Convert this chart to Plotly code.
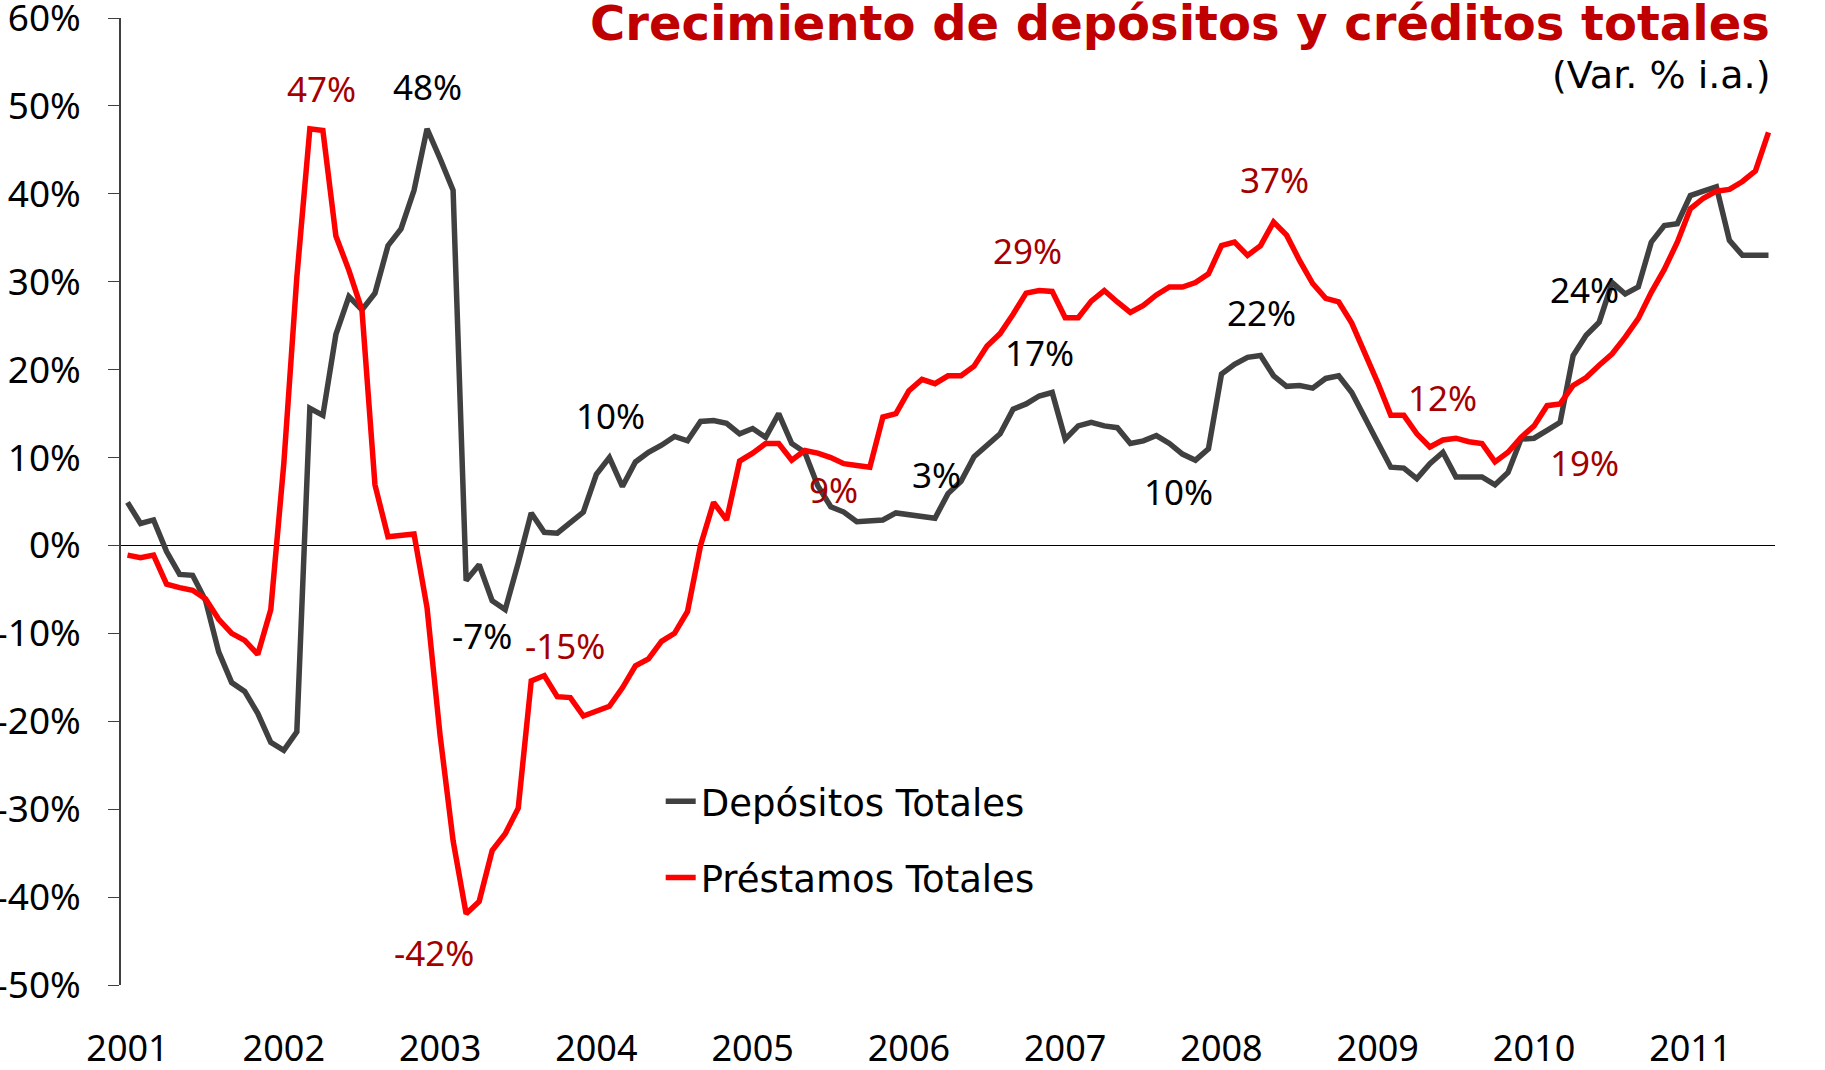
import plotly.graph_objects as go

# meses ene-2001 .. jul-2011
meses = [f"{a}-{m:02d}" for a in range(2001, 2012) for m in range(1, 13)][:127]
anios = [str(a) for a in range(2001, 2012)]
ticks_y = list(range(-50, 61, 10))
ticks_y_txt = [f"{v}%" for v in ticks_y]

depositos = [
    4.9, 2.5, 2.9, -0.7, -3.3, -3.4, -6.3, -12.1, -15.6, -16.6, -19.1, -22.4,
    -23.3, -21.2, 15.6, 14.8, 24.0, 28.3, 26.8, 28.7, 34.1, 36.0, 40.4, 47.4,
    44.0, 40.4, -4.0, -2.2, -6.3, -7.3, -2.0, 3.7, 1.5, 1.4, 2.6, 3.8,
    8.1, 10.0, 6.7, 9.5, 10.6, 11.4, 12.4, 11.9, 14.1, 14.2, 13.9, 12.7,
    13.3, 12.3, 15.0, 11.6, 10.6, 6.8, 4.4, 3.8, 2.7, 2.8, 2.9, 3.7,
    3.5, 3.2, 3.1, 5.9, 7.3, 10.1, 11.4, 12.7, 15.5, 16.1, 17.0, 17.4,
    12.1, 13.6, 14.0, 13.6, 13.4, 11.6, 11.9, 12.5, 11.6, 10.4, 9.7, 11.0,
    19.5, 20.6, 21.4, 21.6, 19.3, 18.1, 18.2, 17.9, 19.0, 19.3, 17.4, 14.4,
    11.7, 8.9, 8.8, 7.6, 9.3, 10.6, 7.8, 7.8, 7.8, 6.9, 8.3, 12.1,
    12.2, 13.1, 14.0, 21.6, 23.9, 25.4, 29.9, 28.6, 29.4, 34.5, 36.4, 36.6,
    39.8, 40.3, 40.8, 34.7, 33.0, 33.0, 33.0,
]

prestamos = [
    -1.1, -1.4, -1.1, -4.4, -4.8, -5.1, -6.1, -8.4, -10.0, -10.8, -12.4, -7.3,
    9.3, 30.5, 47.4, 47.2, 35.2, 31.3, 26.8, 6.9, 1.0, 1.1, 1.3, -7.1,
    -21.6, -33.6, -41.9, -40.5, -34.7, -32.8, -29.9, -15.4, -14.8, -17.2, -17.3, -19.4,
    -18.9, -18.3, -16.2, -13.7, -12.9, -10.9, -10.0, -7.5, 0.0, 4.9, 2.9, 9.6,
    10.5, 11.6, 11.6, 9.7, 10.8, 10.5, 10.0, 9.3, 9.1, 8.9, 14.6, 15.0,
    17.6, 18.9, 18.4, 19.3, 19.3, 20.4, 22.7, 24.1, 26.3, 28.7, 29.0, 28.9,
    25.9, 25.9, 27.8, 29.0, 27.7, 26.5, 27.3, 28.5, 29.4, 29.4, 29.9, 30.9,
    34.1, 34.5, 33.0, 34.1, 36.8, 35.3, 32.4, 29.8, 28.1, 27.7, 25.3, 22.0,
    18.5, 14.8, 14.8, 12.7, 11.2, 12.0, 12.2, 11.8, 11.6, 9.5, 10.6, 12.3,
    13.6, 15.9, 16.1, 18.2, 19.1, 20.5, 21.8, 23.7, 25.8, 28.8, 31.4, 34.5,
    38.3, 39.5, 40.3, 40.5, 41.4, 42.6, 47.0,
]

# etiquetas: (texto, serie, posicion x en meses, posicion y)
etiquetas = [
    ("47%", "p", 14.9, 52.0), ("48%", "d", 23.0, 52.2), ("-7%", "d", 27.2, -10.2),
    ("-15%", "p", 33.6, -11.4), ("-42%", "p", 23.5, -46.3), ("10%", "d", 37.1, 14.8),
    ("9%", "p", 54.2, 6.4), ("3%", "d", 62.1, 8.1), ("17%", "d", 70.0, 22.0),
    ("29%", "p", 69.1, 33.5), ("10%", "d", 80.7, 6.1), ("22%", "d", 87.1, 26.5),
    ("37%", "p", 88.1, 41.6), ("12%", "p", 101.0, 16.8), ("19%", "p", 111.9, 9.4),
    ("24%", "d", 111.9, 29.1), ("33%", "d", 127.3, 38.5), ("47%", "p", 127.1, 51.8),
]

fuente = "Noto Sans, Liberation Sans, sans-serif"

fig = go.Figure()
fig.add_trace(go.Scatter(x=meses, y=depositos, name="Depósitos Totales", mode="lines",
                         line=dict(color="#404040", width=5.5), legendgroup="a"))
fig.add_trace(go.Scatter(x=meses, y=prestamos, name="Préstamos Totales", mode="lines",
                         line=dict(color="#FF0000", width=5.5), legendgroup="b"))

for txt, serie, xi, yv in etiquetas:
    fig.add_annotation(x=xi, y=yv, text=txt, showarrow=False, xref="x", yref="y",
                       font=dict(family=fuente, size=35,
                                 color="#A50000" if serie == "p" else "black"))

fig.add_annotation(text="<b>Crecimiento de depósitos y créditos totales</b>",
                   xref="paper", yref="paper", x=0.998, y=0.995, xanchor="right",
                   yanchor="middle", showarrow=False,
                   font=dict(family="DejaVu Sans", size=48, color="#C00000"))
fig.add_annotation(text="(Var. % i.a.)", xref="paper", yref="paper", x=0.998, y=0.941,
                   xanchor="right", yanchor="middle", showarrow=False,
                   font=dict(family="DejaVu Sans", size=38, color="black"))

fig.update_xaxes(type="category", tickmode="array", tickvals=[f"{a}-01" for a in anios],
                 ticktext=anios, showgrid=False, showline=False, ticks="",
                 ticklabelstandoff=39, range=[-0.5, 126.5], automargin=False,
                 tickfont=dict(family=fuente, size=36, color="black"))
fig.update_yaxes(range=[-50, 60], tickmode="array", tickvals=ticks_y, ticktext=ticks_y_txt,
                 showgrid=False, automargin=False, ticklabeloverflow="allow",
                 showline=True, linecolor="#404040", linewidth=1.5,
                 ticks="outside", ticklen=11, tickcolor="#404040",
                 zeroline=True, zerolinecolor="black", zerolinewidth=1.2,
                 ticklabelstandoff=20,
                 tickfont=dict(family=fuente, size=37, color="black"))

fig.update_layout(
    width=1825, height=1070,
    margin=dict(l=121, r=50, t=18, b=85),
    plot_bgcolor="white", paper_bgcolor="white",
    legend=dict(x=0.3263, y=0.2215, xanchor="left", yanchor="top",
                traceorder="grouped", tracegroupgap=25,
                font=dict(family="DejaVu Sans", size=37, color="black"),
                bgcolor="rgba(0,0,0,0)"),
)

# quitar el margen por defecto del body para que el grafico quede en 0,0
fig.write_html("out.html", config={"displayModeBar": False},
               post_script="document.body.style.margin='0';")
